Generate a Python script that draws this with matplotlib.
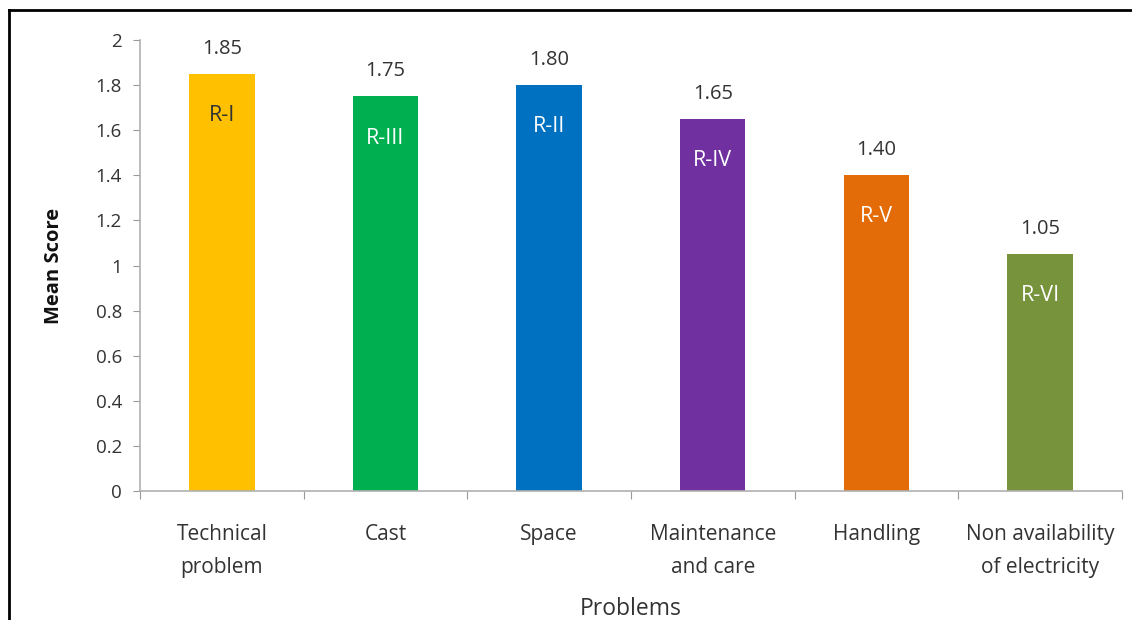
import numpy as np
import matplotlib.pyplot as plt
from matplotlib.lines import Line2D

plt.rcParams['font.family'] = ['Open Sans', 'DejaVu Sans']

categories = ["Technical\nproblem", "Cast", "Space", "Maintenance\nand care",
              "Handling", "Non availability\nof electricity"]
scores = [1.85, 1.75, 1.80, 1.65, 1.40, 1.05]
value_labels = ["1.85", "1.75", "1.80", "1.65", "1.40", "1.05"]
ranks = ["R-I", "R-III", "R-II", "R-IV", "R-V", "R-VI"]
colors = ["#FFC000", "#00B050", "#0070C0", "#7030A0", "#E36C09", "#77933C"]
rank_colors = ["#333333", "white", "white", "white", "white", "white"]

fig = plt.figure(figsize=(11.32, 6.2), dpi=100)
ax = fig.add_axes([0.1237, 0.208, 0.8673, 0.7275])

x = np.arange(len(categories))
bars = ax.bar(x, scores, width=0.4, color=colors, zorder=2)

for b, v, r, rc in zip(bars, value_labels, ranks, rank_colors):
    cx = b.get_x() + b.get_width() / 2
    ax.annotate(v, (cx, b.get_height()), xytext=(0, 11), textcoords="offset points",
                ha="center", va="bottom", fontsize=14.5, color="#333333")
    ax.annotate(r, (cx, b.get_height()), xytext=(0, -30), textcoords="offset points",
                ha="center", va="center", fontsize=15.5, color=rc)

ax.set_xlim(-0.5, len(categories) - 0.5)
ax.set_ylim(0, 2)
ax.set_yticks(np.arange(0, 2.01, 0.2))
ax.set_yticklabels(["0", "0.2", "0.4", "0.6", "0.8", "1", "1.2", "1.4", "1.6", "1.8", "2"])

# category labels between boundary ticks
ax.set_xticks(np.arange(-0.5, len(categories), 1))
ax.set_xticklabels([])
ax.set_xticks(x, minor=True)
ax.set_xticklabels(categories, minor=True, fontsize=15, color="#333333", linespacing=1.7)
ax.tick_params(axis="x", which="minor", length=0, pad=24)
ax.tick_params(axis="x", which="major", length=6, color="#999999", direction="out")
ax.tick_params(axis="y", length=5, color="#999999", labelsize=13.5, labelcolor="#333333", pad=8)

for s in ["top", "right"]:
    ax.spines[s].set_visible(False)
for s in ["left", "bottom"]:
    ax.spines[s].set_color("#b0b0b0")
    ax.spines[s].set_linewidth(1.2)

ax.set_ylabel("Mean Score", fontsize=14.5, fontweight="bold", color="#111111", labelpad=23)
ax.set_xlabel("Problems", fontsize=16.5, color="#333333", labelpad=14)

# outer frame (top and left edges only)
fig.add_artist(Line2D([9 / 1132, 1], [1 - 10 / 620, 1 - 10 / 620], color="black",
                      lw=2, transform=fig.transFigure))
fig.add_artist(Line2D([9 / 1132, 9 / 1132], [0, 1 - 10 / 620], color="black",
                      lw=2, transform=fig.transFigure))

fig.savefig("out.png", dpi=100)
